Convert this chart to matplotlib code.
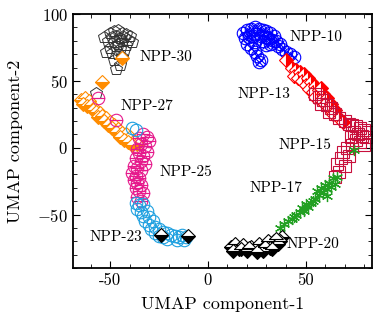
import matplotlib
matplotlib.use("Agg")
import matplotlib.pyplot as plt
from matplotlib.ticker import MultipleLocator, FuncFormatter

plt.rcParams['font.family'] = ['cmr10', 'DejaVu Serif']
plt.rcParams['axes.unicode_minus'] = False
plt.rcParams['mathtext.fontset'] = 'cm'

# UMAP 坐标
npp30_x = [-50, -48, -46, -44, -42, -40, -49, -47, -45, -43, -41, -51, -48, -46, -44, -42, -50, -47, -45, -43, -49, -46, -44, -48, -45, -52, -47, -57, -39, -53]
npp30_y = [86, 87, 88, 86, 85, 84, 83, 84, 82, 83, 81, 80, 79, 78, 80, 77, 75, 76, 74, 73, 71, 70, 68, 66, 62, 72, 59, 41, 79, 83]

npp27_x = [-65, -63, -61, -64, -62, -60, -58, -59, -57, -55, -56, -54, -52, -53, -50, -51, -48, -49, -46, -47, -44, -42, -45, -40, -43, -38, -41, -36, -39, -54, -44]
npp27_y = [36, 37, 35, 33, 31, 32, 30, 28, 27, 26, 23, 24, 22, 20, 19, 17, 17, 15, 14, 12, 11, 10, 8, 8, 6, 5, 4, 3, 2, 49, 67]

npp25_x = [-33, -31, -35, -30, -34, -32, -36, -31, -35, -33, -37, -34, -32, -38, -36, -34, -39, -37, -35, -38, -36, -34, -37, -35, -33, -36, -34, -56, -47]
npp25_y = [10, 8, 7, 5, 3, 1, -1, -3, -4, -6, -8, -10, -12, -14, -15, -17, -19, -21, -23, -24, -26, -28, -30, -32, -34, -37, -40, 37, 21]

npp23_x = [-37, -35, -33, -36, -34, -31, -33, -30, -32, -28, -30, -27, -29, -25, -27, -23, -25, -21, -23, -19, -21, -17, -15, -13, -11, -16, -12, -37, -39]
npp23_y = [-41, -43, -42, -46, -48, -47, -51, -52, -55, -55, -58, -59, -61, -61, -64, -63, -66, -64, -67, -65, -68, -66, -67, -65, -67, -69, -69, 13, 15]

npp10_x = [18, 20, 22, 24, 26, 28, 30, 32, 34, 19, 21, 23, 25, 27, 29, 31, 33, 35, 37, 20, 24, 28, 32, 36, 38, 40, 42, 44, 22, 24, 25, 27, 26, 30]
npp10_y = [86, 88, 89, 90, 89, 88, 87, 86, 84, 82, 83, 84, 85, 84, 83, 82, 81, 80, 78, 78, 79, 80, 78, 76, 74, 72, 70, 68, 75, 72, 69, 66, 64, 77]

npp13_x = [40, 43, 45, 44, 47, 46, 49, 48, 51, 50, 53, 52, 55, 54, 57, 56, 59, 58, 61, 60, 63, 62, 65, 64, 67, 69, 58, 55]
npp13_y = [66, 60, 58, 54, 57, 52, 55, 50, 52, 47, 49, 44, 46, 42, 43, 39, 40, 36, 37, 33, 33, 30, 28, 25, 22, 19, 45, 38]

npp15_x = [55, 57, 59, 58, 61, 63, 62, 65, 67, 70, 72, 74, 76, 78, 80, 82, 75, 77, 79, 81, 73, 76, 78, 80, 74, 71, 69, 72, 68, 66, 70, 67, 65]
npp15_y = [40, 38, 36, 33, 32, 30, 27, 25, 22, 20, 18, 17, 16, 15, 13, 12, 12, 10, 9, 8, 8, 6, 4, 2, 2, 0, -3, -6, -8, -12, -14, -18, -22]

npp17_x = [37, 39, 41, 43, 45, 44, 47, 49, 48, 51, 50, 53, 55, 54, 57, 56, 59, 58, 61, 60, 63, 62, 65, 64, 66, 75, 61]
npp17_y = [-60, -57, -55, -53, -50, -52, -48, -47, -45, -44, -42, -41, -38, -40, -35, -32, -33, -30, -31, -28, -29, -26, -27, -23, -22, -2, -36]

npp20_x = [12, 14, 16, 18, 20, 22, 24, 26, 28, 30, 32, 34, 36, 38, 13, 17, 21, 25, 29, 33, 37, 31, 35, -24, -10]
npp20_y = [-74, -72, -76, -73, -77, -74, -76, -72, -77, -73, -75, -70, -72, -67, -77, -76, -75, -78, -74, -76, -70, -70, -68, -65, -66]

labels = ['NPP-30', 'NPP-10', 'NPP-13', 'NPP-27', 'NPP-15', 'NPP-25', 'NPP-17', 'NPP-23', 'NPP-20']
label_x = [-35, 42, 15, -44.5, 36, -24.5, 21.5, -60.5, 40.5]
label_y = [68, 83, 40, 31, 2, -18, -30, -67, -72]

fig = plt.figure(figsize=(3.8, 3.21), dpi=100)
ax = fig.add_axes([0.192, 0.165, 0.787, 0.791])

ms = 8
ax.plot(npp30_x, npp30_y, 'p', ls='none', ms=ms + 1, mfc='none', mec='#333333', mew=0.7)
ax.plot(npp27_x, npp27_y, 'D', ls='none', ms=ms - 1, fillstyle='bottom', mfc='#ff8c00', mfcalt='white', mec='#ff8c00', mew=0.8)
ax.plot(npp25_x, npp25_y, 'o', ls='none', ms=ms + 1, fillstyle='bottom', mfc='none', mec='#e6198c', mew=0.8)
ax.plot(npp23_x, npp23_y, 'o', ls='none', ms=ms + 1, mfc='none', mec='#1ea0e0', mew=0.8)
ax.plot(npp10_x, npp10_y, 'o', ls='none', ms=ms + 1, mfc='none', mec='#0000ff', mew=0.8)
ax.plot(npp10_x, npp10_y, 'x', ls='none', ms=ms - 2, mec='#0000ff', mew=0.8)
ax.plot(npp13_x, npp13_y, 'D', ls='none', ms=ms - 1, fillstyle='right', mfc='#ff0000', mfcalt='white', mec='#ff0000', mew=0.8)
ax.plot(npp15_x, npp15_y, 's', ls='none', ms=ms + 1, mfc='none', mec='#c8103c', mew=0.8)
ax.plot(npp17_x, npp17_y, ls='none', marker=(6, 2, 0), ms=ms, mec='#22a022', mew=0.9)
ax.plot(npp20_x, npp20_y, 'D', ls='none', ms=ms - 1, fillstyle='bottom', mfc='black', mfcalt='white', mec='black', mew=0.8)

for t, x, y in zip(labels, label_x, label_y):
    ax.text(x, y, t, fontsize=11, ha='left', va='center')

ax.set_xlim(-69, 84)
ax.set_ylim(-90, 100)
ax.xaxis.set_major_locator(MultipleLocator(50))
ax.xaxis.set_minor_locator(MultipleLocator(10))
ax.yaxis.set_major_locator(MultipleLocator(50))
ax.yaxis.set_minor_locator(MultipleLocator(10))
ax.yaxis.set_major_formatter(FuncFormatter(lambda v, p: f'${v:g}$'))
ax.tick_params(which='both', direction='in', top=True, right=True, labelsize=12)
ax.tick_params(which='major', length=5)
ax.tick_params(which='minor', length=3)
for s in ax.spines.values():
    s.set_linewidth(1.3)

ax.set_xlabel('UMAP component-1', fontsize=13, labelpad=6)
ax.set_ylabel('UMAP component-2', fontsize=13, labelpad=10)

plt.savefig('out.png', dpi=100)
